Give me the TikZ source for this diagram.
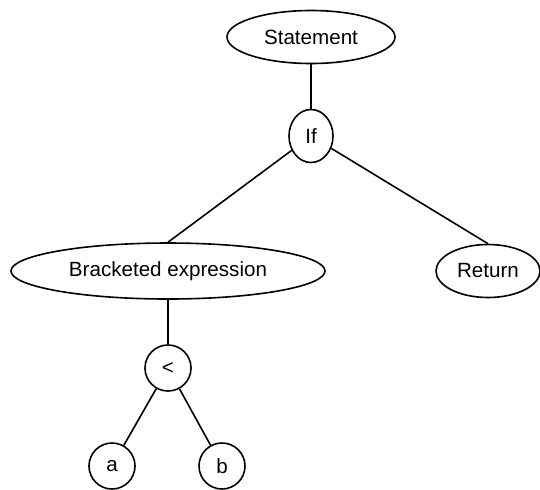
\documentclass[tikz,border=0pt]{standalone}
\usepackage{fontspec}
\setmainfont{Liberation Sans}
\usepackage{tikz}
\usetikzlibrary{shapes.geometric, positioning}

\begin{document}
\begin{tikzpicture}[x=0.5pt, y=-0.5pt, font=\fontsize{10.3}{12}\selectfont,
	nodo/.style={ellipse, draw=black, line width=0.8pt, inner sep=0pt,
		minimum height=26.5pt},
	hoja/.style={circle, draw=black, line width=0.8pt, inner sep=0pt,
		minimum size=23pt},
	rama/.style={line width=0.8pt, black}]
	\useasboundingbox (0,0) rectangle (540,489);
	\node[nodo, minimum width=84pt] (stmt) at (311,37) {Statement};
	\node[nodo, minimum width=22pt] (si) at (311,136) {If};
	\node[nodo, minimum width=157pt, minimum height=28pt] (brack) at (168,271) {Bracketed expression};
	\node[nodo, minimum width=52pt] (ret) at (488,271) {Return};
	\node[hoja] (menor) at (168,368) {<};
	\node[hoja] (a) at (112,466) {a};
	\node[hoja] (b) at (222,466) {b};
	\draw[rama] (stmt) -- (si);
	\draw[rama] (si) -- (brack.north);
	\draw[rama] (si) -- (ret.north);
	\draw[rama] (brack) -- (menor);
	\draw[rama] (menor) -- (a);
	\draw[rama] (menor) -- (b);
\end{tikzpicture}
\end{document}
